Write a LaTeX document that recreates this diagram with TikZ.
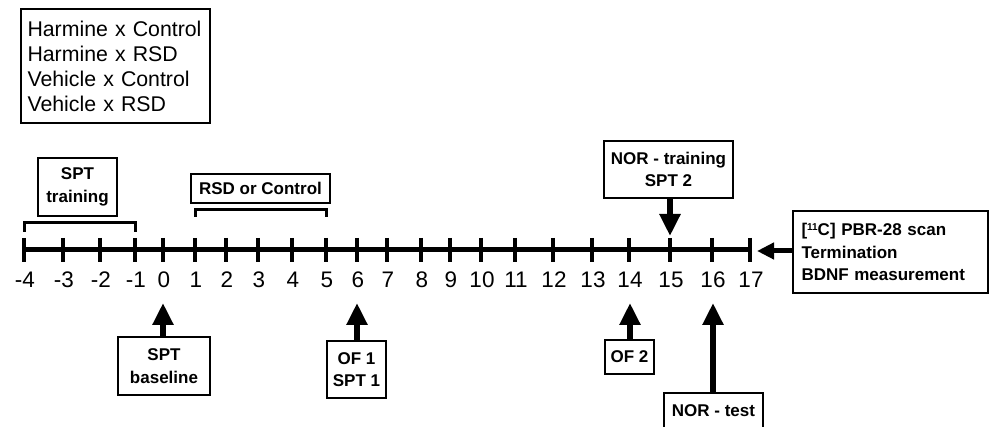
\documentclass[tikz,border=0pt]{standalone}
\usepackage{fontspec}
\setmainfont{Liberation Sans}
\usetikzlibrary{arrows.meta}
\begin{document}
\begin{tikzpicture}[x=1pt,y=-1pt,
  box/.style={draw,line width=1.2pt,inner sep=0pt,align=center,font=\fontsize{17}{22.5}\selectfont\bfseries},
  grpbox/.style={draw,line width=1.2pt,inner sep=0pt,align=left,font=\fontsize{21.3}{25}\selectfont},
  daylab/.style={font=\fontsize{22.5}{24}\selectfont,inner sep=0pt},
  tickline/.style={line width=4pt},
  bracketline/.style={line width=3pt},
  bigarrow/.style={line width=6pt,-{Triangle[length=22pt,width=20pt]}},
  sidearrow/.style={line width=5pt,-{Triangle[length=17pt,width=16pt]}}]
\useasboundingbox (0,0) rectangle (990,427);

% group box
\node[grpbox,minimum width=189,minimum height=114,text width=176] (groups) at (115.5,66)
  {Harmine x Control\\Harmine x RSD\\Vehicle x Control\\Vehicle x RSD};

% ticks
\foreach \d/\x in {-4/24,-3/63,-2/100,-1/135,0/163,1/195,2/226,3/258,4/292,5/326,6/357,7/387,8/421,9/450,10/481,11/515,12/553,13/592,14/629,15/670,16/712,17/750}{
  \coordinate (t\d) at (\x,250);
  \draw[tickline] (\x,238) -- (\x,262);
  \node[daylab] (l\d) at (\x+1,280) {\d};
}
\draw[line width=5pt] (t-4) -- (t17);

% brackets
\draw[bracketline] ([yshift=18pt]t-4) -- ([yshift=27pt]t-4) -- ([yshift=27pt]t-1) -- ([yshift=18pt]t-1);
\draw[bracketline] ([yshift=33pt]t1) -- ([yshift=40pt]t1) -- ([yshift=40pt]t5) -- ([yshift=33pt]t5);

% top boxes
\node[box,minimum width=79,minimum height=58] (spttrain) at (77.5,187) {SPT\\training};
\node[box,minimum width=139,minimum height=29] (rsd) at (260.5,188.5) {RSD or Control};
\node[box,minimum width=129,minimum height=57] (nortrain) at (668.5,169.5) {NOR - training\\SPT 2};
\node[box,minimum width=195,minimum height=82,text width=178,align=left] (scan) at (890.5,252)
  {[\raisebox{0.55ex}{\fontsize{10}{10}\selectfont 11}C] PBR-28 scan\\Termination\\BDNF measurement};

% bottom boxes
\node[box,minimum width=92,minimum height=58] (sptbase) at (164,366) {SPT\\baseline};
\node[box,minimum width=59,minimum height=57] (of1) at (356.5,369.5) {OF 1\\SPT 1};
\node[box,minimum width=49,minimum height=34] (of2) at (629.5,357) {OF 2};
\node[box,minimum width=99,minimum height=36] (nortest) at (713.5,411) {NOR - test};

% arrow tips
\coordinate (a0) at (163,303);
\coordinate (a6) at (357,303);
\coordinate (a14) at (630,303);
\coordinate (a16) at (713,303);
\coordinate (a15) at (670,236);
\coordinate (a17) at (757,251);

\draw[bigarrow] (sptbase.north -| a0) -- (a0);
\draw[bigarrow] (of1.north -| a6) -- (a6);
\draw[bigarrow] (of2.north -| a14) -- (a14);
\draw[bigarrow] (nortest.north -| a16) -- (a16);
\draw[bigarrow] (nortrain.south -| a15) -- (a15);
\draw[sidearrow] (scan.west |- a17) -- (a17);
\end{tikzpicture}
\end{document}
